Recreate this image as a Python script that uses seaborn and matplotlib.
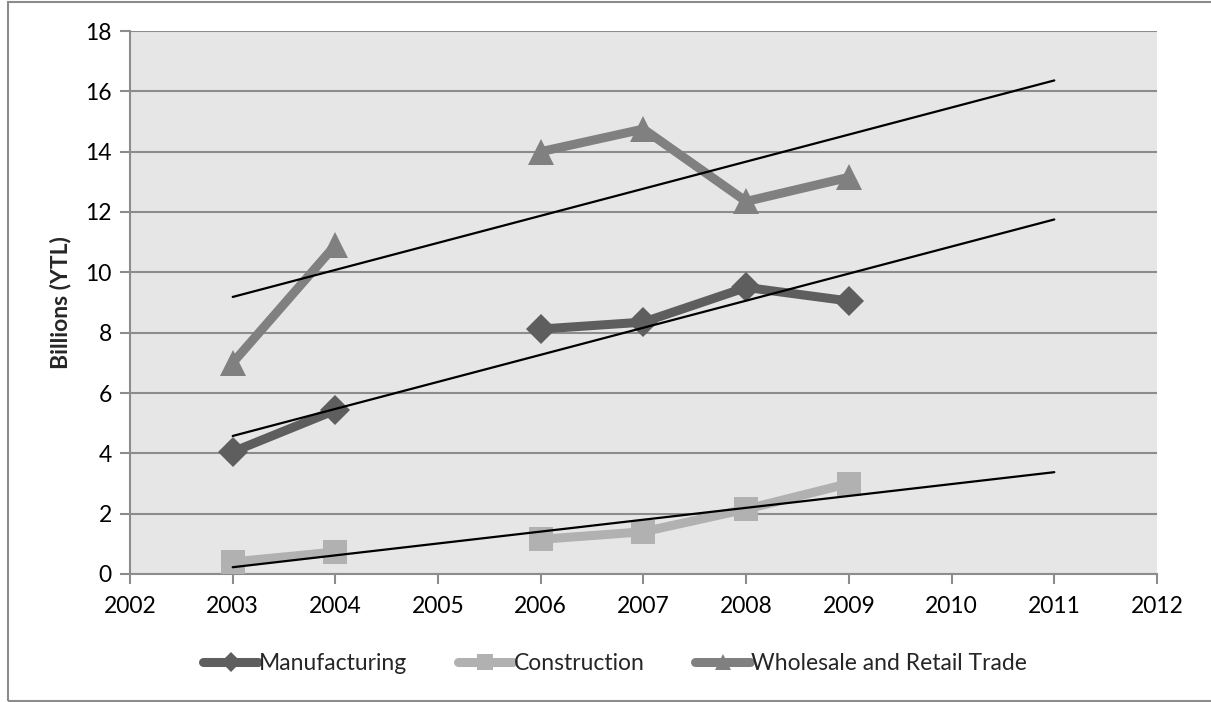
import numpy as np
import pandas as pd
import matplotlib
matplotlib.use("Agg")
import matplotlib.pyplot as plt
from matplotlib.lines import Line2D
from matplotlib.patches import Rectangle
import seaborn as sns

# Annual values in billions of YTL (no data for 2005)
years = [2003, 2004, 2005, 2006, 2007, 2008, 2009]
manufacturing = [4.05, 5.43, None, 8.12, 8.35, 9.50, 9.05]
construction = [0.40, 0.73, None, 1.15, 1.40, 2.15, 3.00]
wholesale_retail = [7.00, 10.90, None, 14.00, 14.75, 12.35, 13.15]

series_names = ["Manufacturing", "Construction", "Wholesale and Retail Trade"]
series_values = [manufacturing, construction, wholesale_retail]
series_colors = ["#5e5e5e", "#b1b1b1", "#808080"]
series_markers = ["D", "s", "^"]
series_msize = [15.5, 17, 19]
legend_msize = [10, 12, 12]

x_ticks = list(range(2002, 2013))
y_ticks = list(range(0, 19, 2))
trend_end = 2011

sns.set_theme(style="white")
plt.rcParams["font.family"] = ["Lato", "DejaVu Sans"]
FS = 16.5

fig = plt.figure(figsize=(12.11, 7.02), dpi=100)
ax = fig.add_axes([130 / 1211, 1 - 574 / 702, (1157 - 130) / 1211, (574 - 31) / 702])
ax.set_facecolor("#e6e6e6")

# Thick series lines, broken where a year is missing
for name, vals, col, mk, ms in zip(series_names, series_values, series_colors,
                                   series_markers, series_msize):
    df = pd.DataFrame({"year": years, "value": vals}, dtype=float)
    df["segment"] = df["value"].isna().cumsum()
    df = df.dropna()
    for _, seg in df.groupby("segment"):
        sns.lineplot(data=seg, x="year", y="value", ax=ax, color=col,
                     linewidth=6.5, marker=mk, markersize=ms,
                     markeredgewidth=0, markeredgecolor=col,
                     solid_capstyle="round", zorder=3, legend=False)

# Linear trendlines with a forward projection to 2011
for vals in series_values:
    df = pd.DataFrame({"year": years, "value": vals}, dtype=float).dropna()
    slope, intercept = np.polyfit(df["year"], df["value"], 1)
    tx = np.array([df["year"].min(), trend_end])
    trend = pd.DataFrame({"year": tx, "value": slope * tx + intercept})
    sns.lineplot(data=trend, x="year", y="value", ax=ax, color="black",
                 linewidth=1.6, zorder=4, legend=False)

ax.set_xlim(2002, 2012)
ax.set_ylim(0, 18)
ax.set_xticks(x_ticks)
ax.set_yticks(y_ticks)
ax.set_xticklabels([str(t) for t in x_ticks], fontsize=FS)
ax.set_yticklabels([str(t) for t in y_ticks], fontsize=FS)
ax.yaxis.grid(True, color="#8c8c8c", linewidth=1.5)
ax.xaxis.grid(False)
ax.set_axisbelow(True)
ax.tick_params(axis="both", which="major", direction="out", length=7,
               width=1.5, color="#8c8c8c", labelcolor="black", pad=6,
               left=True, bottom=True)
ax.tick_params(axis="x", pad=9)
for side in ["top", "right"]:
    ax.spines[side].set_visible(False)
for side in ["left", "bottom"]:
    ax.spines[side].set_color("#8c8c8c")
    ax.spines[side].set_linewidth(1.5)
ax.set_xlabel("")
ax.set_ylabel("Billions (YTL)", fontsize=FS, fontweight="bold", labelpad=10)

handles = [Line2D([0], [0], color=c, linewidth=6.5, marker=m, markersize=s,
                  markeredgewidth=0, solid_capstyle="round")
           for c, m, s in zip(series_colors, series_markers, legend_msize)]
fig.legend(handles, series_names, loc="center", bbox_to_anchor=(0.508, 1 - 664 / 702),
           ncol=3, frameon=False, fontsize=FS, handlelength=2.4,
           handletextpad=0.05, columnspacing=2.2)

# Chart border
fig.add_artist(Rectangle((8 / 1211, 1 / 702), 1.1, 699 / 702,
                         transform=fig.transFigure, fill=False,
                         edgecolor="#8c8c8c", linewidth=1.5))

fig.savefig("out.png", dpi=100)
